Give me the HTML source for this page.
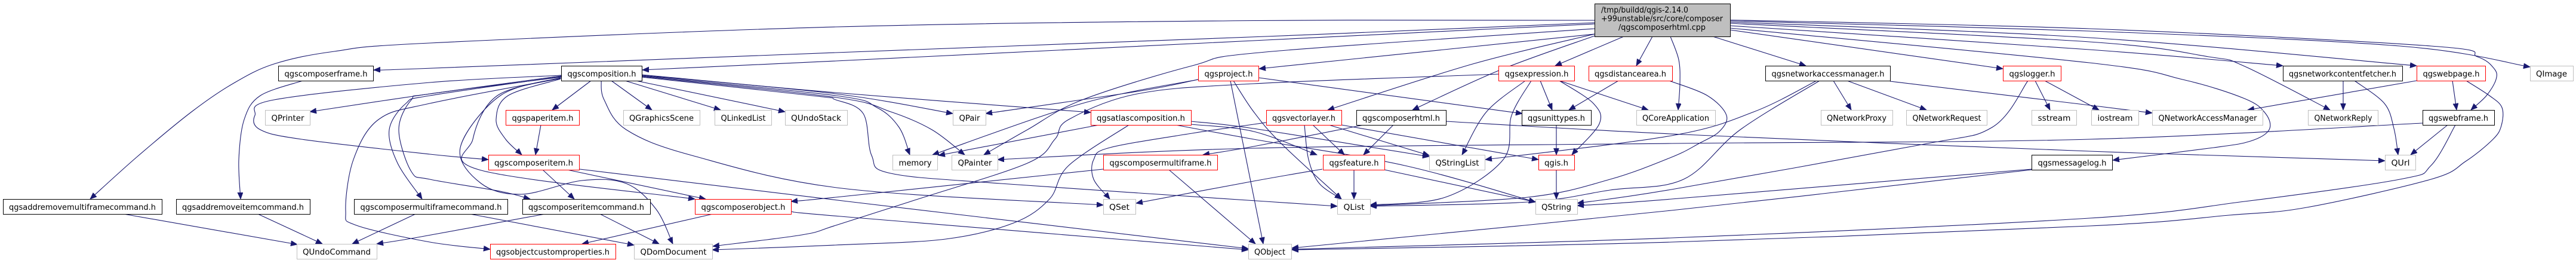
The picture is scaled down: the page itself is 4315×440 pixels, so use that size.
<!DOCTYPE html>
<html><head><meta charset="utf-8"><style>
html,body{margin:0;padding:0;background:#fff;}
svg{display:block;}
.e{fill:none;stroke:#191970;stroke-width:1.1;marker-end:url(#a);stroke-linejoin:round;}
.b{fill:#fff;stroke:#000;stroke-width:1;}
.r{fill:#fff;stroke:#ff0000;stroke-width:1;}
.g{fill:#fff;stroke:#bfbfbf;stroke-width:1;}
text{font-family:"DejaVu Sans","Liberation Sans",sans-serif;font-size:13px;fill:#000;}
</style></head><body>
<svg width="4315" height="440" viewBox="0 0 4315 440" xmlns="http://www.w3.org/2000/svg">
<defs><marker id="a" markerWidth="12" markerHeight="10" refX="11" refY="4.5" orient="auto" markerUnits="userSpaceOnUse"><path d="M0,0 L11,4.5 L0,9 z" fill="#191970" stroke="#191970" stroke-width="0.8"/></marker></defs>
<g id="edges">
<path class="e" d="M2671,34 L2100,34.5 L1400,45 L720,72 L560,86 L459,107 L390,140 L321,187 L230,262 L151,333"/>
<path class="e" d="M2671,38 L2120,61 L1400,88 L700,115 L626,117"/>
<path class="e" d="M2671,40 L2120,67 L1400,102 L1076,117"/>
<path class="e" d="M2671,48 L2120,87 L1997,110 L1813,167 L1721,217 L1648,259"/>
<path class="e" d="M2671,57 L2109,115"/>
<path class="e" d="M2671,57 L2467,107 L2224,184"/>
<path class="e" d="M2671,60 L2513,117 L2366,184"/>
<path class="e" d="M2720,61 L2605,110"/>
<path class="e" d="M2768,61 L2741,110"/>
<path class="e" d="M2798,61 L2812,100 L2814,140 L2811,184"/>
<path class="e" d="M2869,61 L3025,110"/>
<path class="e" d="M2898,50 L3355,115"/>
<path class="e" d="M2898,33.5 L3500,48 L4072,77 L4150,95 L4178,115 L4181,133 L4165,160 L4139,184"/>
<path class="e" d="M2898,35 L3500,52 L4020,77 L4238,112"/>
<path class="e" d="M2898,37 L3500,63 L4048,110"/>
<path class="e" d="M2898,39 L3500,70 L3700,95 L3760,111 L3903,184"/>
<path class="e" d="M2898,43 L3500,83 L3824,110"/>
<path class="e" d="M2898,47 L3500,105 L3656,133 L3760,165 L3795,190 L3801,217 L3770,236 L3708,247 L3539,268"/>
<path class="e" d="M940,126 L720,138 L459,167 L427,193 L436,217 L505,233 L720,258 L818,267"/>
<path class="e" d="M940,127 L720,157 L519,187"/>
<path class="e" d="M940,128 L720,160 L680,173 L652,217 L666,273 L707,333"/>
<path class="e" d="M940,129 L720,157 L689,167 L668,217 L689,287 L720,300 L838,320 L888,333"/>
<path class="e" d="M940,131 L720,173 L634,200 L592,267 L579,353 L597,377 L720,405 L821,417"/>
<path class="e" d="M990,135 L925,184"/>
<path class="e" d="M939,132 L851,160 L831,200 L847,233 L874,259"/>
<path class="e" d="M1024,135 L1092,184"/>
<path class="e" d="M1047,135 L1207,184"/>
<path class="e" d="M1065,135 L1315,187"/>
<path class="e" d="M1007,135 L1012,167 L1049,217 L1159,260 L1410,315 L1848,343"/>
<path class="e" d="M939,130 L838,160 L771,247 L806,307 L874,325 L975,302 L1049,307 L1099,350 L1127,408"/>
<path class="e" d="M939,131 L833,160 L792,233 L806,285 L1164,333"/>
<path class="e" d="M1075,126 L1400,157 L1596,190"/>
<path class="e" d="M1075,127 L1400,160 L1469,180 L1506,213 L1524,259"/>
<path class="e" d="M1075,128 L1400,163 L1492,187 L1561,217 L1616,259"/>
<path class="e" d="M1075,125 L1400,155 L1827,188"/>
<path class="e" d="M1075,129 L1360,160 L1400,167 L1446,190 L1460,260 L1492,290 L1676,307 L2120,337 L2240,345"/>
<path class="e" d="M507,135 L436,160 L409,200 L400,267 L403,333"/>
<path class="e" d="M909,284 L962,333"/>
<path class="e" d="M950,284 L1182,333"/>
<path class="e" d="M971,283 L1420,337 L2091,416"/>
<path class="e" d="M913,358 L700,397 L631,408"/>
<path class="e" d="M1005,358 L1104,408"/>
<path class="e" d="M207,358 L498,409"/>
<path class="e" d="M432,358 L540,408"/>
<path class="e" d="M696,358 L590,408"/>
<path class="e" d="M787,358 L1062,410"/>
<path class="e" d="M1194,358 L975,408"/>
<path class="e" d="M1325,354 L1420,363 L2091,418"/>
<path class="e" d="M906,209 L897,259"/>
<path class="e" d="M2007,133 L1905,153 L1651,190"/>
<path class="e" d="M2007,133 L1813,173 L1562,259"/>
<path class="e" d="M2061,135 L2116,408"/>
<path class="e" d="M2108,130 L2550,190"/>
<path class="e" d="M2066,135 L2100,187 L2146,240 L2247,333"/>
<path class="e" d="M1841,209 L1572,260"/>
<path class="e" d="M1891,209 L1790,277 L1758,333 L1698,373 L1584,400 L1400,410 L1193,418"/>
<path class="e" d="M1995,203 L2100,215 L2394,262"/>
<path class="e" d="M1995,208 L2100,220 L2206,259"/>
<path class="e" d="M1969,209 L2100,233 L2353,277 L2572,338"/>
<path class="e" d="M2121,205 L2100,208 L1997,223 L1859,247 L1832,267 L1832,300 L1859,333"/>
<path class="e" d="M2185,209 L2192,267 L2210,307 L2247,333"/>
<path class="e" d="M2199,209 L2252,259"/>
<path class="e" d="M2226,209 L2394,260"/>
<path class="e" d="M2247,209 L2577,267"/>
<path class="e" d="M2334,209 L2284,259"/>
<path class="e" d="M2284,209 L2100,245 L2015,259"/>
<path class="e" d="M2422,203 L2820,225 L3500,253 L3995,269"/>
<path class="e" d="M4058,206 L3500,233 L2800,240 L2100,248 L1671,267"/>
<path class="e" d="M2510,124 L2100,140 L1905,157 L1790,200 L1767,233 L1721,273 L1538,333 L1400,377 L1343,393 L1194,412"/>
<path class="e" d="M2555,135 L2490,187 L2449,259"/>
<path class="e" d="M2565,135 L2532,193 L2518,267 L2421,330 L2295,343"/>
<path class="e" d="M2580,135 L2600,184"/>
<path class="e" d="M2612,135 L2669,173 L2679,207 L2633,259"/>
<path class="e" d="M2612,135 L2761,184"/>
<path class="e" d="M2711,135 L2628,184"/>
<path class="e" d="M2796,135 L2860,160 L2892,193 L2880,220 L2846,240 L2800,263 L2697,300 L2559,330 L2295,344"/>
<path class="e" d="M2607,209 L2607,259"/>
<path class="e" d="M2607,284 L2607,333"/>
<path class="e" d="M2268,284 L2268,333"/>
<path class="e" d="M2319,284 L2572,338"/>
<path class="e" d="M2215,283 L2100,303 L1903,340"/>
<path class="e" d="M1848,283 L1400,330 L1325,337"/>
<path class="e" d="M1958,284 L2103,408"/>
<path class="e" d="M3071,135 L3101,184"/>
<path class="e" d="M3094,135 L3227,184"/>
<path class="e" d="M3166,136 L3500,176 L3605,189"/>
<path class="e" d="M3043,135 L2938,187 L2800,227 L2488,267"/>
<path class="e" d="M3048,135 L2915,217 L2820,300 L2697,318 L2559,338 L2295,345"/>
<path class="e" d="M3397,135 L3337,213 L3213,243 L2800,317 L2642,340"/>
<path class="e" d="M3409,135 L3434,184"/>
<path class="e" d="M3425,135 L3516,184"/>
<path class="e" d="M3403,283 L2800,333 L2642,344"/>
<path class="e" d="M3403,284 L2800,352 L2164,415"/>
<path class="e" d="M4100,209 L4038,259"/>
<path class="e" d="M4113,209 L4072,277 L4020,300 L3760,337 L3500,365 L2800,398 L2164,417"/>
<path class="e" d="M4048,135 L3765,184"/>
<path class="e" d="M4108,135 L4115,184"/>
<path class="e" d="M4131,135 L4170,160 L4191,180 L4190,210 L4176,233 L4130,270 L4072,300 L3864,347 L3734,360 L3500,378 L2800,405 L2164,418"/>
<path class="e" d="M3925,135 L3925,184"/>
<path class="e" d="M3944,135 L3994,173 L4010,215 L4017,259"/>
</g>
<g>
<rect x="2671.5" y="6.5" width="227" height="55" fill="#bfbfbf" stroke="#000"/>
<text x="2682" y="21" textLength="146" lengthAdjust="spacingAndGlyphs">/tmp/buildd/qgis-2.14.0</text>
<text x="2682" y="35.5" textLength="204" lengthAdjust="spacingAndGlyphs">+99unstable/src/core/composer</text>
<text x="2784" y="50" text-anchor="middle" textLength="146" lengthAdjust="spacingAndGlyphs">/qgscomposerhtml.cpp</text>

<rect class="b" x="466.5" y="110.5" width="159" height="25"/><text x="546" y="128" text-anchor="middle" textLength="139" lengthAdjust="spacingAndGlyphs">qgscomposerframe.h</text>
<rect class="b" x="940.5" y="110.5" width="135" height="25"/><text x="1008" y="128" text-anchor="middle" textLength="115" lengthAdjust="spacingAndGlyphs">qgscomposition.h</text>
<rect class="r" x="2007.5" y="110.5" width="101" height="25"/><text x="2058" y="128" text-anchor="middle" textLength="81" lengthAdjust="spacingAndGlyphs">qgsproject.h</text>
<rect class="r" x="2510.5" y="110.5" width="127" height="25"/><text x="2574" y="128" text-anchor="middle" textLength="107" lengthAdjust="spacingAndGlyphs">qgsexpression.h</text>
<rect class="r" x="2661.5" y="110.5" width="140" height="25"/><text x="2731" y="128" text-anchor="middle" textLength="120" lengthAdjust="spacingAndGlyphs">qgsdistancearea.h</text>
<rect class="b" x="2957.5" y="110.5" width="209" height="25"/><text x="3062" y="128" text-anchor="middle" textLength="189" lengthAdjust="spacingAndGlyphs">qgsnetworkaccessmanager.h</text>
<rect class="r" x="3355.5" y="110.5" width="97" height="25"/><text x="3404" y="128" text-anchor="middle" textLength="77" lengthAdjust="spacingAndGlyphs">qgslogger.h</text>
<rect class="b" x="3824.5" y="110.5" width="200" height="25"/><text x="3924" y="128" text-anchor="middle" textLength="180" lengthAdjust="spacingAndGlyphs">qgsnetworkcontentfetcher.h</text>
<rect class="r" x="4048.5" y="110.5" width="115" height="25"/><text x="4106" y="128" text-anchor="middle" textLength="95" lengthAdjust="spacingAndGlyphs">qgswebpage.h</text>
<rect class="g" x="4238.5" y="110.5" width="72" height="25"/><text x="4274" y="128" text-anchor="middle" textLength="52" lengthAdjust="spacingAndGlyphs">QImage</text>

<rect class="g" x="444.5" y="184.5" width="75" height="25"/><text x="482" y="202" text-anchor="middle" textLength="55" lengthAdjust="spacingAndGlyphs">QPrinter</text>
<rect class="r" x="847.5" y="184.5" width="123" height="25"/><text x="909" y="202" text-anchor="middle" textLength="103" lengthAdjust="spacingAndGlyphs">qgspaperitem.h</text>
<rect class="g" x="1044.5" y="184.5" width="128" height="25"/><text x="1108" y="202" text-anchor="middle" textLength="108" lengthAdjust="spacingAndGlyphs">QGraphicsScene</text>
<rect class="g" x="1197.5" y="184.5" width="95" height="25"/><text x="1245" y="202" text-anchor="middle" textLength="75" lengthAdjust="spacingAndGlyphs">QLinkedList</text>
<rect class="g" x="1315.5" y="184.5" width="104" height="25"/><text x="1367" y="202" text-anchor="middle" textLength="84" lengthAdjust="spacingAndGlyphs">QUndoStack</text>
<rect class="g" x="1596.5" y="184.5" width="55" height="25"/><text x="1624" y="202" text-anchor="middle" textLength="35" lengthAdjust="spacingAndGlyphs">QPair</text>
<rect class="r" x="1827.5" y="184.5" width="168" height="25"/><text x="1911" y="202" text-anchor="middle" textLength="148" lengthAdjust="spacingAndGlyphs">qgsatlascomposition.h</text>
<rect class="r" x="2121.5" y="184.5" width="126" height="25"/><text x="2184" y="202" text-anchor="middle" textLength="106" lengthAdjust="spacingAndGlyphs">qgsvectorlayer.h</text>
<rect class="b" x="2272.5" y="184.5" width="150" height="25"/><text x="2347" y="202" text-anchor="middle" textLength="130" lengthAdjust="spacingAndGlyphs">qgscomposerhtml.h</text>
<rect class="b" x="2549.5" y="184.5" width="116" height="25"/><text x="2607" y="202" text-anchor="middle" textLength="96" lengthAdjust="spacingAndGlyphs">qgsunittypes.h</text>
<rect class="g" x="2741.5" y="184.5" width="132" height="25"/><text x="2807" y="202" text-anchor="middle" textLength="112" lengthAdjust="spacingAndGlyphs">QCoreApplication</text>
<rect class="g" x="3050.5" y="184.5" width="120" height="25"/><text x="3110" y="202" text-anchor="middle" textLength="100" lengthAdjust="spacingAndGlyphs">QNetworkProxy</text>
<rect class="g" x="3193.5" y="184.5" width="135" height="25"/><text x="3261" y="202" text-anchor="middle" textLength="115" lengthAdjust="spacingAndGlyphs">QNetworkRequest</text>
<rect class="g" x="3403.5" y="184.5" width="75" height="25"/><text x="3441" y="202" text-anchor="middle" textLength="55" lengthAdjust="spacingAndGlyphs">sstream</text>
<rect class="g" x="3503.5" y="184.5" width="79" height="25"/><text x="3543" y="202" text-anchor="middle" textLength="59" lengthAdjust="spacingAndGlyphs">iostream</text>
<rect class="g" x="3605.5" y="184.5" width="185" height="25"/><text x="3698" y="202" text-anchor="middle" textLength="165" lengthAdjust="spacingAndGlyphs">QNetworkAccessManager</text>
<rect class="g" x="3866.5" y="184.5" width="117" height="25"/><text x="3925" y="202" text-anchor="middle" textLength="97" lengthAdjust="spacingAndGlyphs">QNetworkReply</text>
<rect class="b" x="4058.5" y="184.5" width="120" height="25"/><text x="4118" y="202" text-anchor="middle" textLength="100" lengthAdjust="spacingAndGlyphs">qgswebframe.h</text>

<rect class="r" x="818.5" y="259.5" width="152" height="25"/><text x="894" y="277" text-anchor="middle" textLength="132" lengthAdjust="spacingAndGlyphs">qgscomposeritem.h</text>
<rect class="g" x="1495.5" y="259.5" width="75" height="25"/><text x="1533" y="277" text-anchor="middle" textLength="55" lengthAdjust="spacingAndGlyphs">memory</text>
<rect class="g" x="1594.5" y="259.5" width="77" height="25"/><text x="1633" y="277" text-anchor="middle" textLength="57" lengthAdjust="spacingAndGlyphs">QPainter</text>
<rect class="r" x="1848.5" y="259.5" width="191" height="25"/><text x="1944" y="277" text-anchor="middle" textLength="171" lengthAdjust="spacingAndGlyphs">qgscomposermultiframe.h</text>
<rect class="r" x="2216.5" y="259.5" width="103" height="25"/><text x="2268" y="277" text-anchor="middle" textLength="83" lengthAdjust="spacingAndGlyphs">qgsfeature.h</text>
<rect class="g" x="2394.5" y="259.5" width="93" height="25"/><text x="2441" y="277" text-anchor="middle" textLength="73" lengthAdjust="spacingAndGlyphs">QStringList</text>
<rect class="r" x="2577.5" y="259.5" width="60" height="25"/><text x="2607" y="277" text-anchor="middle" textLength="40" lengthAdjust="spacingAndGlyphs">qgis.h</text>
<rect class="b" x="3403.5" y="259.5" width="135" height="25"/><text x="3471" y="277" text-anchor="middle" textLength="115" lengthAdjust="spacingAndGlyphs">qgsmessagelog.h</text>
<rect class="g" x="3995.5" y="259.5" width="51" height="25"/><text x="4021" y="277" text-anchor="middle" textLength="31" lengthAdjust="spacingAndGlyphs">QUrl</text>

<rect class="b" x="5.5" y="333.5" width="266" height="25"/><text x="138" y="351" text-anchor="middle" textLength="246" lengthAdjust="spacingAndGlyphs">qgsaddremovemultiframecommand.h</text>
<rect class="b" x="295.5" y="333.5" width="224" height="25"/><text x="407" y="351" text-anchor="middle" textLength="204" lengthAdjust="spacingAndGlyphs">qgsaddremoveitemcommand.h</text>
<rect class="b" x="593.5" y="333.5" width="257" height="25"/><text x="722" y="351" text-anchor="middle" textLength="237" lengthAdjust="spacingAndGlyphs">qgscomposermultiframecommand.h</text>
<rect class="b" x="875.5" y="333.5" width="214" height="25"/><text x="982" y="351" text-anchor="middle" textLength="194" lengthAdjust="spacingAndGlyphs">qgscomposeritemcommand.h</text>
<rect class="r" x="1164.5" y="333.5" width="161" height="25"/><text x="1245" y="351" text-anchor="middle" textLength="141" lengthAdjust="spacingAndGlyphs">qgscomposerobject.h</text>
<rect class="g" x="1848.5" y="333.5" width="54" height="25"/><text x="1875" y="351" text-anchor="middle" textLength="34" lengthAdjust="spacingAndGlyphs">QSet</text>
<rect class="g" x="2240.5" y="333.5" width="55" height="25"/><text x="2268" y="351" text-anchor="middle" textLength="35" lengthAdjust="spacingAndGlyphs">QList</text>
<rect class="g" x="2572.5" y="333.5" width="70" height="25"/><text x="2607" y="351" text-anchor="middle" textLength="50" lengthAdjust="spacingAndGlyphs">QString</text>

<rect class="g" x="497.5" y="408.5" width="134" height="25"/><text x="564" y="426" text-anchor="middle" textLength="114" lengthAdjust="spacingAndGlyphs">QUndoCommand</text>
<rect class="r" x="821.5" y="408.5" width="210" height="25"/><text x="926" y="426" text-anchor="middle" textLength="190" lengthAdjust="spacingAndGlyphs">qgsobjectcustomproperties.h</text>
<rect class="g" x="1062.5" y="408.5" width="131" height="25"/><text x="1128" y="426" text-anchor="middle" textLength="111" lengthAdjust="spacingAndGlyphs">QDomDocument</text>
<rect class="g" x="2091.5" y="408.5" width="72" height="25"/><text x="2127" y="426" text-anchor="middle" textLength="52" lengthAdjust="spacingAndGlyphs">QObject</text>
</g>
</svg>
<script>
(function(){
  var paths = document.querySelectorAll('#edges path');
  for (var k = 0; k < paths.length; k++) {
    var p = paths[k];
    var nums = p.getAttribute('d').match(/-?\d+(\.\d+)?/g);
    if (!nums || nums.length < 6) continue;
    var pts = [];
    for (var i = 0; i + 1 < nums.length; i += 2) pts.push([+nums[i], +nums[i+1]]);
    var n = pts.length;
    var d = 'M' + pts[0][0] + ',' + pts[0][1];
    for (var j = 0; j < n - 1; j++) {
      var p0 = pts[j > 0 ? j - 1 : 0], p1 = pts[j], p2 = pts[j + 1], p3 = pts[j + 2 < n ? j + 2 : n - 1];
      var c1x = p1[0] + (p2[0] - p0[0]) / 6, c1y = p1[1] + (p2[1] - p0[1]) / 6;
      var c2x = p2[0] - (p3[0] - p1[0]) / 6, c2y = p2[1] - (p3[1] - p1[1]) / 6;
      d += ' C' + c1x.toFixed(1) + ',' + c1y.toFixed(1) + ' ' + c2x.toFixed(1) + ',' + c2y.toFixed(1) + ' ' + p2[0] + ',' + p2[1];
    }
    p.setAttribute('d', d);
  }
})();
</script>
</body></html>
